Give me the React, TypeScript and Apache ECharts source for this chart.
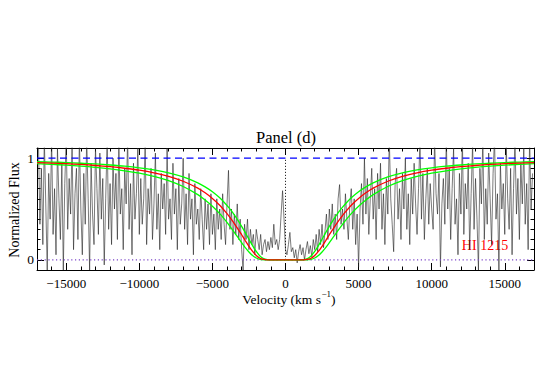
import React, { useEffect, useRef } from "react";
import * as echarts from "echarts";

const FONT = "Liberation Serif";

// Spectrum: flux sampled on a regular velocity grid
const specStart = -16900;
const specStep = 100;
const specFlux = [
  1.15, 0.35, 0.9, 0.15, 1.2, 0.55, -0.1, 0.85, 0.4, 1.2,
  0.25, 0.7, 0.05, 1.1, 0.6, 0.2, 0.95, -0.1, 0.75, 1.2,
  0.3, 0.8, 0.45, 1.15, 0.1, 0.65, 0.9, 0.2, 1.2, 0.5,
  0.05, 0.85, 0.35, 1.2, 0.6, -0.1, 0.95, 0.45, 0.15, 1.1,
  0.7, 0.25, 1.05, 0.4, 0.8, -0.05, 0.6, 1.2, 0.3, 0.75,
  0.15, 1.0, 0.5, 0.85, 0.2, 1.15, 0.45, 0.7, 0.1, 0.9,
  0.55, 1.2, 0.3, 0.75, 0.05, 0.95, 0.4, 0.65, 1.1, 0.25,
  0.8, 0.35, 0.6, 1.15, 0.15, 0.7, 0.45, 0.9, 0.2, 0.55,
  1.05, 0.3, 0.65, 0.1, 0.85, 0.5, 0.75, 0.25, 1.1, 0.4,
  0.6, 0.2, 0.95, 0.45, 0.7, 0.1, 0.8, 0.35, 0.55, 1.0,
  0.3, 0.65, 0.15, 0.85, 0.4, 0.6, 0.05, 0.75, 0.35, 0.5,
  0.2, 0.7, 0.4, 0.1, 0.6, 0.3, 0.55, 0.15, 0.65, 0.25,
  0.45, 0.1, 0.6, 0.3, 0.5, 0.2, 0.65, 0.35, 0.15, 0.55,
  0.88, 0.3, 0.5, 0.15, 0.45, 0.25, 0.55, 0.2, 0.4, 0.1,
  -0.1, 0.35, 0.2, 0.4, 0.1, 0.3, 0.15, 0.25, 0.05, 0.3,
  0.2, 0.1, 0.25, 0.05, 0.15, 0.2, 0.08, 0.18, 0.1, 0.22,
  0.12, 0.35, 0.15, 0.2, 0.1, 0.2, 0.45, 0.68, 0.4, 0.1,
  0.05, 0.15, 0.27, 0.08, 0.12, 0.02, 0.1, -0.03, 0.08, 0.15,
  0.05, 0.12, 0.0, 0.1, 0.18, 0.06, 0.14, 0.03, 0.2, 0.1,
  0.25, 0.08, 0.3, 0.15, 0.35, 0.12, 0.28, 0.45, 0.2, 0.5,
  0.3, 0.55, 0.25, 0.45, 0.2, 0.6, 0.74, 0.35, 0.5, 0.3,
  0.65, 0.4, 0.2, 0.55, 0.7, 0.3, 0.6, 0.15, 0.45, -0.07,
  0.5, 0.75, 0.35, 1.0, 0.45, 0.8, 0.25, 0.6, 0.9, 0.4,
  0.7, 0.2, 0.85, 0.5, 0.95, 0.3, 0.65, 0.15, 0.8, 0.45,
  1.2, 0.6, 0.35, 0.08, 0.75, 0.9, 0.4, 0.7, 0.2, 0.85,
  0.5, 1.0, 0.3, 0.65, 0.15, 0.8, 0.45, 0.95, 0.55, 0.25,
  0.7, 1.2, 0.4, 0.85, 0.2, 0.6, 0.9, 0.35, 0.75, 0.5,
  0.3, 1.2, 0.65, 0.45, 0.85, -0.07, 0.55, 0.8, 0.35, 1.2,
  0.5, 0.9, 0.2, 0.7, 1.1, 0.35, 0.6, 0.05, 0.85, 0.45,
  1.2, 0.25, 0.75, 0.5, 0.95, 0.1, 0.65, 1.15, 0.3, 0.8,
  0.4, -0.1, 0.9, 0.55, 1.2, 0.2, 0.7, 0.35, 1.05, 0.6,
  0.15, 0.85, 1.2, 0.4, 0.65, -0.1, 0.95, 0.5, 0.75, 0.25,
  1.15, 0.6, 0.3, 0.9, 0.05, 0.7, 1.2, 0.45, 0.8, 0.2,
  0.95, 0.55, 1.1, 0.35, 0.75, 0.1, 1.2, 0.5, 0.85,
];

// Model profiles
const modelVel = [
  -17000, -16000, -15000, -14000, -13000, -12000, -11000, -10000, -9000, -8000,
  -7000, -6000, -5500, -5000, -4500, -4000, -3750, -3500, -3250, -3000,
  -2750, -2500, -2250, -2000, -1750, -1500, -1250, -1000, 0,
  1000, 1250, 1500, 1750, 2000, 2250, 2500, 2750, 3000, 3250,
  3500, 3750, 4000, 4500, 5000, 5500, 6000, 7000, 8000, 9000,
  10000, 11000, 12000, 13000, 14000, 15000, 16000, 17000,
];
const modelRed = [
  0.957, 0.952, 0.946, 0.938, 0.928, 0.916, 0.901, 0.882, 0.856, 0.821,
  0.773, 0.705, 0.659, 0.604, 0.537, 0.455, 0.408, 0.357, 0.303, 0.247,
  0.189, 0.133, 0.083, 0.043, 0.016, 0.004, 0.0, 0.0, 0.0,
  0.0, 0.0, 0.004, 0.016, 0.043, 0.083, 0.133, 0.189, 0.247, 0.303,
  0.357, 0.408, 0.455, 0.537, 0.604, 0.659, 0.705, 0.773, 0.821, 0.856,
  0.882, 0.901, 0.916, 0.928, 0.938, 0.946, 0.952, 0.957,
];
const modelGreenUpper = [
  0.966, 0.962, 0.957, 0.95, 0.943, 0.933, 0.921, 0.905, 0.884, 0.855,
  0.815, 0.757, 0.718, 0.67, 0.61, 0.535, 0.491, 0.442, 0.388, 0.329,
  0.267, 0.202, 0.139, 0.082, 0.038, 0.012, 0.002, 0.0, 0.0,
  0.0, 0.002, 0.012, 0.038, 0.082, 0.139, 0.202, 0.267, 0.329, 0.388,
  0.442, 0.491, 0.535, 0.61, 0.67, 0.718, 0.757, 0.815, 0.855, 0.884,
  0.905, 0.921, 0.933, 0.943, 0.95, 0.957, 0.962, 0.966,
];
const modelGreenLower = [
  0.946, 0.939, 0.931, 0.922, 0.91, 0.895, 0.876, 0.852, 0.821, 0.779,
  0.721, 0.641, 0.589, 0.527, 0.454, 0.368, 0.32, 0.271, 0.22, 0.169,
  0.12, 0.077, 0.042, 0.018, 0.005, 0.001, 0.0, 0.0, 0.0,
  0.0, 0.0, 0.001, 0.005, 0.018, 0.042, 0.077, 0.12, 0.169, 0.22,
  0.271, 0.32, 0.368, 0.454, 0.527, 0.589, 0.641, 0.721, 0.779, 0.821,
  0.852, 0.876, 0.895, 0.91, 0.922, 0.931, 0.939, 0.946,
];

const xMin = -17000;
const xMax = 17000;
const yMin = -0.1;
const yMax = 1.1;
const xMajorTicks = [-15000, -10000, -5000, 0, 5000, 10000, 15000];
const yMajorTicks = [0, 1];
const continuumLevel = 1;
const zeroLevel = 0;

const fmtX = (v: number) => {
  const r = Math.round(v);
  return r < 0 ? "\u2212" + String(-r) : String(r);
};

export default function App() {
  const ref = useRef<HTMLDivElement>(null);
  useEffect(() => {
    document.body.style.margin = "0";
    const chart = echarts.init(ref.current!, null, { renderer: "svg" });
    const spec = specFlux.map((f, i) => [specStart + i * specStep, f]);
    const pair = (ys: number[]) => modelVel.map((v, i) => [v, ys[i]]);
    const black = { color: "#000", width: 1 };
    const xBase = {
      type: "value",
      min: xMin,
      max: xMax,
      splitLine: { show: false },
    };
    const yBase = {
      type: "value",
      min: yMin,
      max: yMax,
      splitLine: { show: false },
    };
    chart.setOption({
      animation: false,
      textStyle: { fontFamily: FONT },
      grid: { left: 37, right: 6, top: 148, bottom: 116 },
      xAxis: [
        {
          ...xBase,
          position: "bottom",
          axisLine: { show: true, onZero: false, lineStyle: black },
          axisTick: { show: true, inside: true, length: 7, customValues: xMajorTicks, lineStyle: black },
          axisLabel: {
            customValues: xMajorTicks,
            formatter: fmtX,
            color: "#000",
            fontFamily: FONT,
            fontSize: 13,
            margin: 7,
          },
        },
        {
          ...xBase,
          position: "bottom",
          interval: 1000,
          axisLine: { show: false, onZero: false },
          axisTick: { show: true, inside: true, length: 3.5, lineStyle: black },
          axisLabel: { show: false },
        },
        {
          ...xBase,
          position: "top",
          axisLine: { show: true, onZero: false, lineStyle: black },
          axisTick: { show: true, inside: true, length: 7, customValues: xMajorTicks, lineStyle: black },
          axisLabel: { show: false },
        },
        {
          ...xBase,
          position: "top",
          interval: 1000,
          axisLine: { show: false, onZero: false },
          axisTick: { show: true, inside: true, length: 3.5, lineStyle: black },
          axisLabel: { show: false },
        },
      ],
      yAxis: [
        {
          ...yBase,
          position: "left",
          interval: 0.1,
          axisLine: { show: true, onZero: false, lineStyle: black },
          axisTick: { show: true, inside: true, length: 3.5, lineStyle: black },
          axisLabel: {
            formatter: (v: number) =>
              Math.abs(v) < 1e-6 ? "0" : Math.abs(v - 1) < 1e-6 ? "1" : "",
            color: "#000",
            fontFamily: FONT,
            fontSize: 13.5,
            margin: 3,
          },
        },
        {
          ...yBase,
          position: "right",
          interval: 0.1,
          axisLine: { show: true, onZero: false, lineStyle: black },
          axisTick: { show: true, inside: true, length: 3.5, lineStyle: black },
          axisLabel: { show: false },
        },
        {
          ...yBase,
          position: "left",
          axisLine: { show: false, onZero: false },
          axisTick: { show: true, inside: true, length: 7, customValues: yMajorTicks, lineStyle: black },
          axisLabel: { show: false },
        },
        {
          ...yBase,
          position: "right",
          axisLine: { show: false, onZero: false },
          axisTick: { show: true, inside: true, length: 7, customValues: yMajorTicks, lineStyle: black },
          axisLabel: { show: false },
        },
      ],
      series: [
        {
          type: "line",
          name: "spectrum",
          data: spec,
          showSymbol: false,
          symbol: "none",
          clip: true,
          silent: true,
          lineStyle: { color: "#222", width: 0.6 },
          z: 2,
        },
        {
          type: "line",
          data: [[xMin, zeroLevel], [xMax, zeroLevel]],
          symbol: "none",
          silent: true,
          lineStyle: { color: "#7a44c8", width: 1.2, type: [1.2, 2.6] },
          z: 3,
        },
        {
          type: "line",
          data: [[0, zeroLevel], [0, continuumLevel]],
          symbol: "none",
          silent: true,
          lineStyle: { color: "#000", width: 1, type: [1, 2] },
          z: 3,
        },
        {
          type: "line",
          data: [[xMin, continuumLevel], [xMax, continuumLevel]],
          symbol: "none",
          silent: true,
          lineStyle: { color: "#0000ff", width: 1.3, type: [7, 4.5] },
          z: 3,
        },
        {
          type: "line",
          data: pair(modelGreenUpper),
          symbol: "none",
          smooth: 0.3,
          silent: true,
          lineStyle: { color: "#00ff00", width: 1.3 },
          z: 4,
        },
        {
          type: "line",
          data: pair(modelGreenLower),
          symbol: "none",
          smooth: 0.3,
          silent: true,
          lineStyle: { color: "#00ff00", width: 1.3 },
          z: 4,
        },
        {
          type: "line",
          data: pair(modelRed),
          symbol: "none",
          smooth: 0.3,
          silent: true,
          lineStyle: { color: "#ff0000", width: 1.3 },
          z: 5,
        },
      ],
      graphic: [
        {
          type: "text",
          x: 286,
          y: 137,
          style: {
            text: "Panel (d)",
            font: `16.5px ${FONT}`,
            fill: "#000",
            textAlign: "center",
            textVerticalAlign: "middle",
          },
        },
        {
          type: "text",
          x: 14,
          y: 210,
          rotation: Math.PI / 2,
          style: {
            text: "Normalized Flux",
            font: `14px ${FONT}`,
            fill: "#000",
            textAlign: "center",
            textVerticalAlign: "middle",
          },
        },
        {
          type: "text",
          x: 321,
          y: 299,
          style: {
            text: "Velocity (km s",
            font: `13.5px ${FONT}`,
            fill: "#000",
            textAlign: "right",
            textVerticalAlign: "middle",
          },
        },
        {
          type: "text",
          x: 321.5,
          y: 294,
          style: {
            text: "\u22121",
            font: `9px ${FONT}`,
            fill: "#000",
            textAlign: "left",
            textVerticalAlign: "middle",
          },
        },
        {
          type: "text",
          x: 331,
          y: 299,
          style: {
            text: ")",
            font: `13.5px ${FONT}`,
            fill: "#000",
            textAlign: "left",
            textVerticalAlign: "middle",
          },
        },
        {
          type: "text",
          x: 485,
          y: 245,
          style: {
            text: "HI 1215",
            font: `14px ${FONT}`,
            fill: "#ff0000",
            textAlign: "center",
            textVerticalAlign: "middle",
          },
        },
      ],
    });
    return () => chart.dispose();
  }, []);
  return <div ref={ref} style={{ width: 540, height: 386 }} />;
}
